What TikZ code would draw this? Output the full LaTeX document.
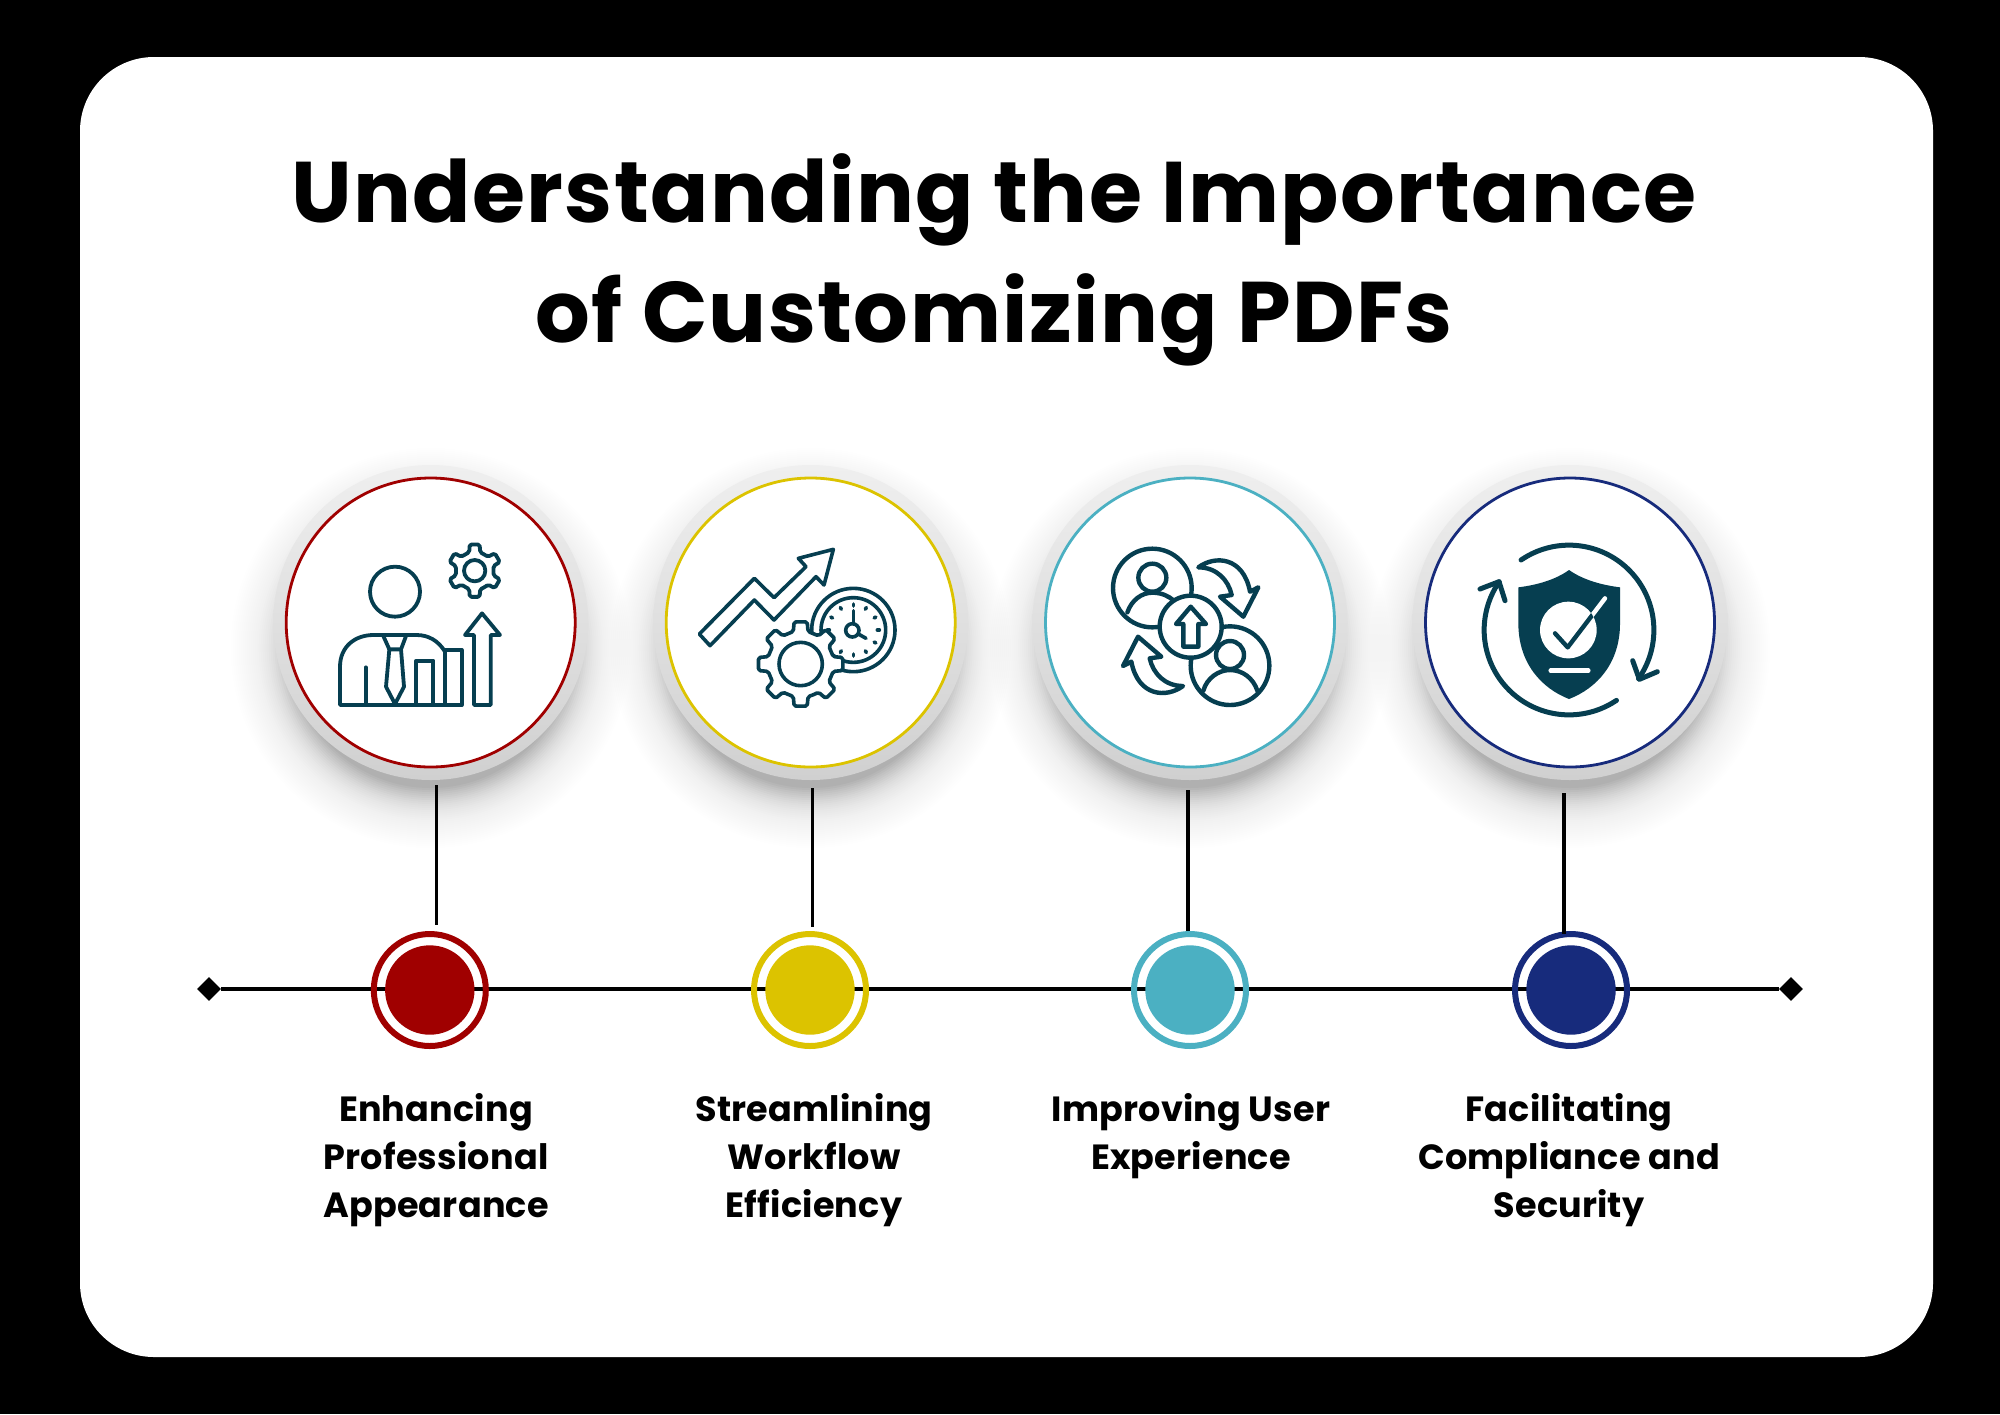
\documentclass[tikz,border=0pt]{standalone}
\usepackage{fontspec}
\setmainfont{Poppins}[BoldFont=* Bold]
\usetikzlibrary{positioning,shapes.geometric}
\definecolor{cred}{HTML}{A00000}
\definecolor{cyellow}{HTML}{DCC300}
\definecolor{cteal}{HTML}{4BB0C2}
\definecolor{cnavy}{HTML}{172B7C}
\definecolor{iconcol}{HTML}{063E50}
\definecolor{halotop}{HTML}{EFEFEF}
\definecolor{halobot}{HTML}{D0D0D0}
\tikzset{%
	card/.style     = {fill=white, rounded corners=37pt},
	heading/.style  = {align=center, inner sep=0pt, anchor=north, font=\fontsize{43}{60}\selectfont\bfseries\addfontfeature{LetterSpace=1.6}},
	caption/.style  = {align=center, inner sep=0pt, anchor=north, font=\fontsize{17.5}{24}\selectfont\bfseries\addfontfeature{LetterSpace=.6}},
	halo/.style     = {circle, minimum size=157.5pt, inner sep=0pt, top color=halotop, bottom color=halobot},
	badge/.style    = {circle, minimum size=144.5pt, inner sep=0pt, fill=white, draw=#1, line width=1.4pt},
	dotring/.style  = {circle, minimum size=56pt, inner sep=0pt, draw=#1, line width=3pt},
	dotdisc/.style  = {circle, minimum size=44.7pt, inner sep=0pt, fill=#1},
	endmark/.style  = {diamond, minimum size=12pt, inner sep=0pt, fill=black},
	link/.style     = {line width=1.7pt, black},
	icon at/.style  = {shift={(#1)}, x=.16667pt, y=-.16667pt},
	iconline/.style = {draw=iconcol, line width=#1, line join=round, line cap=round},
	iconline/.default = 1.9pt,
}
\newcommand{\gearicon}[6]{%
	\draw[iconline=#6, fill=white, rounded corners=.9pt, shift={(#1)}] (90-#2/2:#4)
		\foreach \a in {0,#2,...,359} {-- (\a+90-16*#5:#4) -- (\a+90-11*#5:#3) -- (\a+90+11*#5:#3) -- (\a+90+16*#5:#4)} -- cycle;
}
\begin{document}
\begin{tikzpicture}[x=.5pt,y=-.5pt]
	\useasboundingbox (0,0) rectangle (2000,1414);
	\fill[black] (0,0) rectangle (2000,1414);
	\fill[card] (80,57) rectangle (1933,1357);

	\node[heading] (title) at (994,153.5) {Understanding the Importance\\of Customizing PDFs};

	\foreach \i/\cx in {1/430.7,2/810.7,3/1190,4/1570} {
		\foreach \r [evaluate=\r as \o using .003+.03*((200-\r)/60)^3] in {200,198,...,140} \fill[black,opacity=\o] (\cx,648) circle[radius=\r];
	}
	\foreach \i/\cx/\col in {1/430.7/cred,2/810.7/cyellow,3/1190/cteal,4/1570/cnavy} {
		\node[halo] (halo\i) at (\cx,622.5) {};
		\node[badge=\col] (badge\i) at (\cx,622.5) {};
	}

	\node[endmark] (lineL) at (209,989) {};
	\node[endmark] (lineR) at (1791,989) {};
	\draw[link] (lineL) -- (lineR);

	\foreach \i/\dx/\tx/\ttop/\tbot/\lx/\col/\txt in {%
		1/429.8/436.7/785/925/436/cred/{Enhancing\\Professional\\Appearance},
		2/810/812.3/788/927/814/cyellow/{Streamlining\\Workflow\\Efficiency},
		3/1190/1188/790/931/1191/cteal/{Improving User\\Experience},
		4/1571/1564/793/934/1569/cnavy/{Facilitating\\Compliance and\\Security}} {
		\node[dotring=\col] (ring\i) at (\dx,990) {};
		\node[dotdisc=\col] (disc\i) at (\dx,990) {};
		\coordinate (top\i) at (\tx,\ttop);
		\coordinate (bot\i) at (\tx,\tbot);
		\draw[link] (top\i) -- (bot\i);
		\node[caption] (label\i) at (\lx,1093) {\txt};
	}

	\begin{scope}[icon at={260,450}]
		\draw[iconline] (405,425) circle[radius=75];
		\draw[iconline] (240,765) -- (240,650) .. controls (240,590) and (285,555) .. (340,555) -- (470,555) .. controls (505,555) and (535,572) .. (555,605) -- (555,765) -- cycle;
		\draw[iconline] (555,600) -- (605,600) -- (605,765) -- (555,765);
		\draw[iconline] (468,765) -- (468,632) -- (520,632) -- (520,765);
		\draw[iconline] (317,765) -- (317,652);
		\draw[iconline] (370,558) -- (388,598) -- (423,598) -- (438,558);
		\draw[iconline] (388,598) -- (378,710) -- (405,762) -- (432,710) -- (423,598);
		\draw[iconline] (642,765) -- (642,555) -- (615,555) -- (666,490) -- (720,555) -- (692,555) -- (692,765) -- cycle;
		\gearicon{644,362}{60}{80}{58}{1}{1.9pt}
		\draw[iconline] (644,362) circle[radius=32];
	\end{scope}

	\begin{scope}[icon at={640,450}]
		\draw[iconline=1.8pt] (178,552) -- (343,385) -- (402,443) -- (498,350) -- (475,325) -- (580,298) -- (552,405) -- (528,380) -- (402,510) -- (343,450) -- (210,587) -- cycle;
		\draw[iconline=1.8pt] (640,540) circle[radius=125];
		\draw[iconline=1.8pt] (640,540) circle[radius=97];
		\foreach \a in {0,30,...,330} \draw[iconline=1.8pt] (640,540) ++(\a:72) -- ++(\a:6);
		\draw[iconline=1.8pt] (640,522) -- (640,482);
		\draw[iconline=1.8pt] (637,541) circle[radius=20];
		\draw[iconline=1.8pt] (655,552) -- (678,565);
		\gearicon{482,642}{45}{128}{100}{.8}{1.8pt}
		\draw[iconline=1.8pt] (482,642) circle[radius=65];
	\end{scope}

	\begin{scope}[icon at={1020,450}]
		\draw[iconline=2.2pt] (397,414) circle[radius=118];
		\draw[iconline=2.2pt] (630,647) circle[radius=118];
		\draw[iconline=2.2pt] (397,383) circle[radius=42];
		\draw[iconline=2.2pt] (630,615) circle[radius=42];
		\draw[iconline=2.2pt] (322,487) .. controls (335,450) and (365,428) .. (397,428) .. controls (425,428) and (445,438) .. (462,452);
		\draw[iconline=2.2pt] (550,722) .. controls (560,685) and (595,660) .. (630,660) .. controls (668,660) and (700,685) .. (712,722);
		\draw[iconline=2.2pt,fill=white] (512,530) circle[radius=93];
		\draw[iconline=2.2pt] (512,470) -- (558,522) -- (535,522) -- (535,590) -- (490,590) -- (490,522) -- (468,522) -- cycle;
		\draw[iconline=2.2pt] (535,352) .. controls (585,315) and (670,320) .. (690,425) -- (715,412) -- (670,500) -- (600,440) -- (635,435) .. controls (625,390) and (590,352) .. (535,352) -- cycle;
		\draw[iconline=2.2pt] (489,708) .. controls (439,745) and (354,740) .. (334,635) -- (309,648) -- (354,560) -- (424,620) -- (389,625) .. controls (399,670) and (434,708) .. (489,708) -- cycle;
	\end{scope}

	\begin{scope}[icon at={1400,450}]
		\fill[iconcol] (507,360) .. controls (550,390) and (605,405) .. (660,412) -- (660,520) .. controls (660,640) and (590,715) .. (507,747) .. controls (425,715) and (355,640) .. (355,520) -- (355,412) .. controls (410,405) and (465,390) .. (507,360) -- cycle;
		\draw[iconline=2.2pt,draw=white] (465,550) -- (503,592) -- (615,445);
		\fill[white] (505,540) circle[radius=85];
		\begin{scope}
			\clip (505,540) circle[radius=85];
			\draw[iconline=2.2pt] (465,550) -- (503,592) -- (615,445);
		\end{scope}
		\draw[iconline=2.2pt,draw=white] (452,662) -- (565,662);
		\draw[iconline=2.5pt] plot[domain=-124.4:35,samples=40,smooth] ({507+254.6*cos(\x)},{540+254.6*sin(\x)});
		\draw[iconline=2.5pt] (698,632) -- (718,688) -- (772,665);
		\draw[iconline=2.5pt] plot[domain=56:214.6,samples=40,smooth] ({507+254.6*cos(\x)},{540+254.6*sin(\x)});
		\draw[iconline=2.5pt] (240,417) -- (297,395) -- (315,452);
	\end{scope}
\end{tikzpicture}
\end{document}
